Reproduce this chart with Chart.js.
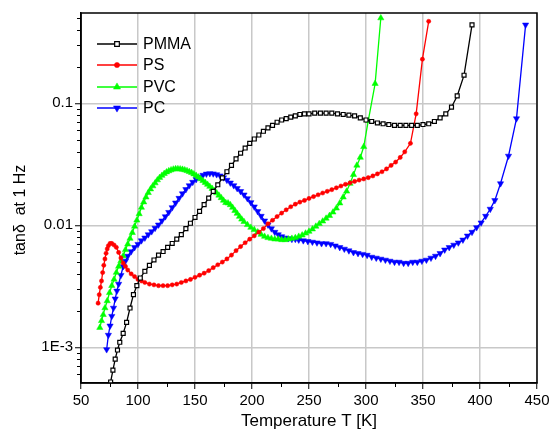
<!DOCTYPE html>
<html>
<head>
<meta charset="utf-8">
<script src="https://cdn.jsdelivr.net/npm/chart.js@4.4.1/dist/chart.umd.min.js"></script>
<style>
  html, body { margin: 0; padding: 0; background: #fff; }
  #wrap { width: 555px; height: 437px; }
</style>
</head>
<body>
<div id="wrap"><canvas id="chart" width="555" height="437"></canvas></div>
<script>
// data (T in K, tan delta at 1 Hz)
const pmmaT = [76, 78, 80, 82, 84, 87, 90, 93, 96, 99, 102, 106, 110, 114, 118, 122, 126, 130, 134, 138, 142, 146, 150, 154, 158, 162, 166, 170, 174, 178, 182, 186, 190, 194, 198, 202, 206, 210, 214, 218, 222, 226, 230, 234, 238, 242, 246, 250, 255, 260, 265, 270, 275, 280, 285, 290, 295, 300, 305, 310, 315, 320, 325, 330, 335, 340, 345, 350, 355, 360, 365, 370, 375, 380, 386, 393];
const pmmaTan = [5.2e-4, 6.5e-4, 8.0e-4, 9.5e-4, 1.1e-3, 1.3e-3, 1.6e-3, 2.1e-3, 2.7e-3, 3.2e-3, 3.7e-3, 4.2e-3, 4.7e-3, 5.2e-3, 5.7e-3, 6.1e-3, 6.6e-3, 7.1e-3, 7.7e-3, 8.4e-3, 9.4e-3, 0.0104, 0.0116, 0.013, 0.0148, 0.0167, 0.019, 0.0215, 0.0245, 0.0275, 0.031, 0.035, 0.039, 0.043, 0.047, 0.051, 0.055, 0.059, 0.063, 0.066, 0.070, 0.073, 0.075, 0.077, 0.079, 0.081, 0.082, 0.082, 0.083, 0.083, 0.083, 0.083, 0.082, 0.081, 0.080, 0.079, 0.076, 0.073, 0.071, 0.069, 0.068, 0.067, 0.066, 0.066, 0.066, 0.066, 0.066, 0.067, 0.068, 0.071, 0.076, 0.082, 0.093, 0.115, 0.17, 0.44];

const psT = [65, 66, 67, 68, 69, 70, 71, 72, 73, 74, 75.5, 77, 79, 81, 83, 85, 87, 89, 91, 94, 97, 100, 103, 106, 110, 114, 118, 122, 126, 130, 134, 138, 142, 146, 150, 154, 158, 162, 166, 170, 174, 178, 182, 186, 190, 194, 198, 202, 206, 210, 214, 218, 222, 226, 230, 234, 238, 242, 246, 250, 254, 258, 262, 266, 270, 274, 278, 282, 286, 290, 294, 298, 302, 306, 310, 314, 318, 322, 326, 330, 334, 339, 344, 349.5, 355];
const psTan = [2.3e-3, 2.7e-3, 3.1e-3, 3.5e-3, 4.1e-3, 4.7e-3, 5.3e-3, 5.9e-3, 6.4e-3, 6.8e-3, 7.1e-3, 7.1e-3, 6.9e-3, 6.6e-3, 6.0e-3, 5.4e-3, 4.9e-3, 4.6e-3, 4.3e-3, 4.0e-3, 3.8e-3, 3.6e-3, 3.5e-3, 3.4e-3, 3.3e-3, 3.25e-3, 3.2e-3, 3.2e-3, 3.2e-3, 3.25e-3, 3.3e-3, 3.4e-3, 3.5e-3, 3.6e-3, 3.75e-3, 3.9e-3, 4.05e-3, 4.25e-3, 4.5e-3, 4.75e-3, 5.0e-3, 5.3e-3, 5.7e-3, 6.2e-3, 6.7e-3, 7.2e-3, 7.7e-3, 8.2e-3, 8.8e-3, 9.4e-3, 0.0103, 0.011, 0.0118, 0.0126, 0.0134, 0.0142, 0.0149, 0.0155, 0.016, 0.0166, 0.0172, 0.0178, 0.0184, 0.019, 0.0196, 0.0203, 0.021, 0.0217, 0.0223, 0.0229, 0.0235, 0.024, 0.0246, 0.0254, 0.0264, 0.0275, 0.029, 0.031, 0.033, 0.036, 0.040, 0.047, 0.082, 0.23, 0.47];

const pvcT = [66.5, 68, 69.5, 71, 73, 75, 77, 79, 81, 83, 85, 87, 89, 91, 93, 95, 97, 99, 101, 103, 105, 107, 109, 111, 113, 115, 117, 119, 121, 123, 125, 127, 129, 131, 133, 135, 137, 139, 141, 143, 145, 147, 149, 151, 153, 155, 157, 159, 161, 163, 165, 167, 169, 171, 173, 175, 177, 179, 181, 183, 185, 187, 189, 191, 193, 196, 199, 202, 205, 208, 211, 214, 217, 220, 223, 226, 229, 232, 235, 238, 241, 244, 247, 250, 253, 256, 259, 262, 265, 268, 271, 274, 277, 280, 283, 286, 289, 292, 295, 298, 302, 308, 313];
const pvcTan = [1.45e-3, 1.65e-3, 1.85e-3, 2.1e-3, 2.4e-3, 2.8e-3, 3.2e-3, 3.6e-3, 4.1e-3, 4.6e-3, 5.1e-3, 5.6e-3, 6.3e-3, 7.0e-3, 7.8e-3, 8.7e-3, 9.8e-3, 0.011, 0.0124, 0.014, 0.0155, 0.017, 0.0185, 0.0198, 0.021, 0.0222, 0.0235, 0.0246, 0.0256, 0.0265, 0.0273, 0.0279, 0.0284, 0.0288, 0.029, 0.029, 0.0289, 0.0287, 0.0284, 0.028, 0.0275, 0.027, 0.0263, 0.0256, 0.0248, 0.024, 0.0232, 0.0224, 0.0216, 0.0208, 0.02, 0.0192, 0.0184, 0.0176, 0.0168, 0.016, 0.0153, 0.0152, 0.0147, 0.014, 0.0132, 0.0125, 0.0118, 0.0112, 0.0107, 0.0101, 0.0096, 0.0092, 0.0088, 0.0084, 0.0081, 0.0079, 0.0078, 0.0077, 0.0077, 0.0076, 0.0076, 0.0077, 0.0078, 0.0079, 0.0081, 0.0083, 0.0086, 0.0089, 0.0093, 0.0098, 0.0103, 0.0108, 0.0114, 0.012, 0.0128, 0.0138, 0.0152, 0.017, 0.019, 0.022, 0.026, 0.031, 0.036, 0.044, 0.072, 0.145, 0.5];

const pcT = [72.5, 74, 75.5, 77, 78.5, 80, 81.5, 83, 85, 87, 89, 91, 94, 97, 100, 103, 106, 109, 112, 115, 118, 121, 124, 127, 130, 133, 136, 139, 142, 145, 148, 151, 154, 157, 160, 163, 166, 169, 172, 175, 178, 181, 184, 187, 190, 193, 196, 199, 202, 205, 208, 211, 214, 217, 220, 223, 226, 229, 232, 235, 238, 241, 245, 249, 253, 257, 261, 265, 269, 273, 277, 281, 285, 289, 293, 297, 301, 305, 309, 313, 317, 321, 325, 329, 333, 337, 341, 345, 349, 353, 357, 361, 365, 369, 373, 377, 381, 385, 389, 393, 397, 401, 405, 409, 413, 418, 425, 432, 440];
const pcTan = [9.6e-4, 1.26e-3, 1.5e-3, 1.8e-3, 2.1e-3, 2.5e-3, 2.9e-3, 3.3e-3, 3.9e-3, 4.6e-3, 5.1e-3, 5.6e-3, 6.1e-3, 6.6e-3, 7.0e-3, 7.5e-3, 7.9e-3, 8.4e-3, 8.9e-3, 9.5e-3, 0.0101, 0.0109, 0.0118, 0.0128, 0.014, 0.0153, 0.0167, 0.0182, 0.0197, 0.0212, 0.0226, 0.0238, 0.0249, 0.0258, 0.0264, 0.0266, 0.0265, 0.0261, 0.0255, 0.0246, 0.0235, 0.0223, 0.0212, 0.0201, 0.019, 0.0178, 0.0166, 0.0154, 0.0142, 0.013, 0.0119, 0.0109, 0.0101, 0.0094, 0.0088, 0.0084, 0.0081, 0.0079, 0.0078, 0.0077, 0.0077, 0.0076, 0.0075, 0.0074, 0.0073, 0.0072, 0.0071, 0.0071, 0.007, 0.0068, 0.0066, 0.0064, 0.0062, 0.006, 0.0059, 0.0058, 0.0057, 0.0055, 0.0054, 0.0053, 0.0052, 0.0051, 0.005, 0.005, 0.0049, 0.0049, 0.005, 0.005, 0.0051, 0.0052, 0.0054, 0.0056, 0.0059, 0.0063, 0.0066, 0.0069, 0.0072, 0.0076, 0.0082, 0.0088, 0.0096, 0.0105, 0.0119, 0.0136, 0.016, 0.022, 0.037, 0.075, 0.44];

const seriesNames = ['PMMA', 'PS', 'PVC', 'PC'];
const xTicks = [50, 100, 150, 200, 250, 300, 350, 400, 450];
const xMinor = [75, 125, 175, 225, 275, 325, 375, 425];
const yTicks = [1e-3, 0.01, 0.1];
const yTickLabels = ['1E-3', '0.01', '0.1'];

const FONT = "Arial, 'Liberation Sans', Helvetica, sans-serif";

function toPoints(xs, ys) {
    return xs.map((x, i) => ({ x: x, y: ys[i] }));
}

// black frame, minor ticks, y title and the legend box
const extrasPlugin = {
    id: 'extras',
    afterDatasetsDraw(chart) {
        const ctx = chart.ctx;
        const area = chart.chartArea;
        const xs = chart.scales.x;
        const ys = chart.scales.y;

        ctx.save();
        ctx.strokeStyle = '#000';
        ctx.lineWidth = 1.5;
        ctx.strokeRect(area.left, area.top, area.right - area.left, area.bottom - area.top);

        // minor ticks
        ctx.lineWidth = 1;
        ctx.beginPath();
        xMinor.forEach(v => {
            const px = Math.round(xs.getPixelForValue(v)) + 0.5;
            ctx.moveTo(px, area.bottom);
            ctx.lineTo(px, area.bottom + 4);
        });
        for (let d = -4; d <= -1; d++) {
            for (let m = 2; m <= 9; m++) {
                const v = m * Math.pow(10, d);
                if (v < ys.min || v > ys.max) continue;
                const py = Math.round(ys.getPixelForValue(v)) + 0.5;
                ctx.moveTo(area.left - 4, py);
                ctx.lineTo(area.left, py);
            }
        }
        ctx.stroke();

        // y axis title
        ctx.fillStyle = '#000';
        ctx.font = '16px ' + FONT;
        ctx.textAlign = 'center';
        ctx.textBaseline = 'middle';
        ctx.translate(21, 210);
        ctx.rotate(-Math.PI / 2);
        ctx.fillText('tanδ  at 1 Hz', 0, 0);
        ctx.restore();

        // legend
        ctx.save();
        const rows = [44, 65, 87, 108];
        chart.data.datasets.forEach((ds, i) => {
            const y = rows[i];
            ctx.strokeStyle = ds.borderColor;
            ctx.lineWidth = 1.3;
            ctx.beginPath();
            ctx.moveTo(97, y);
            ctx.lineTo(137, y);
            ctx.stroke();
            ctx.fillStyle = ds.pointBackgroundColor;
            ctx.strokeStyle = ds.borderColor;
            ctx.lineWidth = ds.pointBorderWidth;
            Chart.helpers.drawPoint(ctx, {
                pointStyle: ds.pointStyle,
                rotation: ds.pointRotation || 0,
                radius: ds.pointRadius + 0.5,
                borderWidth: ds.pointBorderWidth
            }, 117, y);
            ctx.fillStyle = '#000';
            ctx.font = '16px ' + FONT;
            ctx.textAlign = 'left';
            ctx.textBaseline = 'middle';
            ctx.fillText(ds.label, 143, y + 1);
        });
        ctx.restore();
    }
};

const ctx = document.getElementById('chart').getContext('2d');
new Chart(ctx, {
    type: 'scatter',
    data: {
        datasets: [
            {
                label: seriesNames[0],
                data: toPoints(pmmaT, pmmaTan),
                borderColor: '#000000',
                pointBackgroundColor: '#ffffff',
                pointBorderColor: '#000000',
                pointStyle: 'rect',
                pointRadius: 2.8,
                pointBorderWidth: 1.2
            },
            {
                label: seriesNames[1],
                data: toPoints(psT, psTan),
                borderColor: '#ff0000',
                pointBackgroundColor: '#ff0000',
                pointBorderColor: '#ff0000',
                pointStyle: 'circle',
                pointRadius: 2.1,
                pointBorderWidth: 0.5
            },
            {
                label: seriesNames[2],
                data: toPoints(pvcT, pvcTan),
                borderColor: '#00ff00',
                pointBackgroundColor: '#00ff00',
                pointBorderColor: '#00ff00',
                pointStyle: 'triangle',
                pointRadius: 3.6,
                pointBorderWidth: 0.5
            },
            {
                label: seriesNames[3],
                data: toPoints(pcT, pcTan),
                borderColor: '#0000ff',
                pointBackgroundColor: '#0000ff',
                pointBorderColor: '#0000ff',
                pointStyle: 'triangle',
                pointRotation: 180,
                pointRadius: 3.6,
                pointBorderWidth: 0.5
            }
        ].map(ds => Object.assign(ds, { showLine: true, borderWidth: 1.3, tension: 0, fill: false }))
    },
    options: {
        responsive: false,
        animation: false,
        layout: { padding: { top: 13, right: 18, left: 0, bottom: 0 } },
        plugins: {
            legend: { display: false },
            tooltip: { enabled: false }
        },
        scales: {
            x: {
                type: 'linear',
                min: 50,
                max: 450,
                afterBuildTicks: scale => { scale.ticks = xTicks.map(v => ({ value: v })); },
                afterFit: scale => { scale.height = 54; },
                grid: { color: '#c8c8c8', lineWidth: 1.5, tickColor: '#000', tickLength: 6, tickWidth: 1 },
                border: { display: true, color: '#000', width: 1.5 },
                ticks: { color: '#000', font: { family: FONT, size: 15 }, padding: 3, maxRotation: 0 },
                title: {
                    display: true,
                    text: 'Temperature T [K]',
                    color: '#000',
                    font: { family: FONT, size: 17 },
                    padding: { top: 0, bottom: 5 }
                }
            },
            y: {
                type: 'logarithmic',
                min: 5.1e-4,
                max: 0.55,
                afterBuildTicks: scale => { scale.ticks = yTicks.map(v => ({ value: v })); },
                afterFit: scale => { scale.width = 81; },
                grid: { color: '#c8c8c8', lineWidth: 1.5, tickColor: '#000', tickLength: 6, tickWidth: 1 },
                border: { display: true, color: '#000', width: 1.5 },
                ticks: {
                    color: '#000',
                    font: { family: FONT, size: 15 },
                    padding: 2,
                    callback: value => {
                        const i = yTicks.findIndex(t => Math.abs(t - value) / t < 1e-6);
                        return i >= 0 ? yTickLabels[i] : '';
                    }
                }
            }
        }
    },
    plugins: [extrasPlugin]
});
</script>
</body>
</html>
